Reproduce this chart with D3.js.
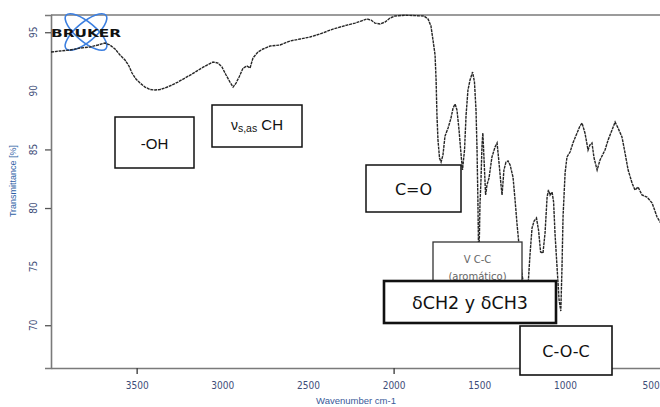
<!DOCTYPE html>
<html>
<head>
<meta charset="utf-8">
<script src="https://cdn.jsdelivr.net/npm/d3@7"></script>
<style>
  html, body { margin: 0; padding: 0; background: #fff; }
  svg { display: block; }
</style>
</head>
<body>
<svg id="chart" width="660" height="407"></svg>
<script>
// FT-IR spectrum: wavenumber (cm-1) and transmittance (%)
const wavenumber = [
  4000, 3947, 3889, 3831, 3772, 3726, 3685, 3656, 3626, 3597, 3568, 3545, 3527, 3504, 3480,
  3451, 3422, 3393, 3364, 3334, 3294, 3259, 3218, 3177, 3130, 3089, 3054, 3025, 3002, 2978,
  2955, 2937, 2920, 2902, 2879, 2856, 2838, 2821, 2792, 2762, 2721, 2663, 2605, 2546, 2488,
  2430, 2354, 2272, 2225, 2190, 2155, 2132, 2109, 2079, 2050, 2021, 1992, 1933, 1875, 1822,
  1799, 1782, 1770, 1758, 1752, 1747, 1741, 1732, 1723, 1712, 1700, 1682, 1665, 1653, 1641,
  1630, 1618, 1606, 1598, 1586, 1577, 1566, 1554, 1539, 1528, 1519, 1513, 1508, 1505, 1503,
  1499, 1496, 1490, 1484, 1479, 1472, 1463, 1455, 1443, 1426, 1408, 1396, 1385, 1373, 1367,
  1356, 1344, 1332, 1320, 1303, 1291, 1279, 1268, 1250, 1233, 1215, 1204, 1192, 1180, 1166,
  1154, 1142, 1128, 1116, 1104, 1096, 1087, 1075, 1066, 1058, 1046, 1034, 1024, 1017, 1011,
  999, 988, 970, 953, 929, 912, 900, 883, 865, 854, 842, 830, 812, 795, 766,
  748, 725, 707, 690, 667, 649, 631, 608, 591, 573, 550, 521, 491, 462, 445, 416
];
const transmittance = [
  93.31, 93.40, 93.48, 93.65, 93.74, 93.91, 94.08, 93.91, 93.57, 93.05, 92.63, 92.12, 91.52, 91.01, 90.66,
  90.32, 90.11, 90.07, 90.11, 90.24, 90.49, 90.75, 91.09, 91.43, 91.86, 92.20, 92.46, 92.37, 92.03, 91.35,
  90.75, 90.32, 90.66, 91.18, 91.94, 92.12, 91.94, 92.80, 93.31, 93.57, 93.82, 93.91, 94.25, 94.42, 94.59,
  94.85, 95.27, 95.61, 95.78, 95.95, 96.13, 96.04, 95.78, 95.70, 95.87, 96.21, 96.38, 96.45, 96.42, 96.38,
  96.13, 95.53, 94.33, 93.05, 90.92, 87.93, 85.80, 84.27, 83.92, 84.52, 86.14, 86.83, 87.68, 88.53, 88.87,
  88.36, 86.65, 84.52, 83.24, 84.95, 87.93, 90.07, 90.92, 91.60, 90.75, 88.36, 84.95, 80.68, 77.27, 75.99,
  77.70, 80.26, 82.39, 85.38, 86.40, 84.10, 81.11, 81.96, 82.56, 84.35, 85.20, 85.55, 83.92, 81.96, 81.11,
  83.24, 83.92, 84.01, 83.67, 82.64, 80.68, 78.55, 76.84, 74.28, 72.83, 73.43, 75.99, 78.29, 78.89, 79.15,
  78.12, 76.25, 76.16, 77.87, 80.94, 81.54, 81.11, 81.37, 80.51, 77.87, 74.97, 72.15, 71.21, 74.97, 79.23,
  82.99, 84.35, 84.78, 85.55, 86.40, 87.00, 87.25, 86.40, 84.95, 85.38, 85.55, 84.27, 83.24, 84.10, 84.95,
  85.80, 86.65, 87.34, 86.83, 86.06, 84.69, 83.24, 82.13, 81.54, 81.79, 81.11, 80.94, 80.43, 79.23, 78.81, 78.46
];

// Axis labels
const xTickLabels = [3500, 3000, 2500, 2000, 1500, 1000, 500];
const xTickMarks = [3500, 2000];
const yTickLabels = [95, 90, 85, 80, 75, 70];
const yTickMarks = [95, 85, 80, 70];

// Band assignments written in the boxes
const bandLabels = ["-OH", "νs,as CH", "C=O", "V C-C (aromático)", "δCH2 y δCH3", "C-O-C"];

const svg = d3.select("#chart");

const x = d3.scaleLinear().domain([4000, 400]).range([51, 667.7]);
const y = d3.scaleLinear().domain([66.35, 96.47]).range([368, 15]);

const axisColor = "#7a7a7a";
const labelColor = "#3e4d78";

// Plot frame: left, top and bottom lines
svg.append("line").attr("x1", 51).attr("x2", 660).attr("y1", 15).attr("y2", 15)
  .attr("stroke", axisColor).attr("stroke-width", 1.6);

// Bottom axis: labels
const gx = svg.append("g").attr("transform", "translate(0,368)")
  .call(d3.axisBottom(x).tickValues(xTickLabels).tickSize(0).tickPadding(14).tickFormat(d3.format("d")));
gx.select(".domain").attr("stroke", axisColor).attr("stroke-width", 1.6);
gx.selectAll("text").attr("font-family", "DejaVu Sans Condensed, DejaVu Sans, sans-serif")
  .attr("font-size", 10).attr("fill", labelColor);

// Bottom axis: the few tick marks
const gxm = svg.append("g").attr("transform", "translate(0,368)")
  .call(d3.axisBottom(x).tickValues(xTickMarks).tickSize(6).tickFormat(""));
gxm.select(".domain").remove();
gxm.selectAll("line").attr("stroke", "#444").attr("stroke-width", 1.4);

// Left axis
const gy = svg.append("g").attr("transform", "translate(51,0)")
  .call(d3.axisLeft(y).tickValues(yTickMarks).tickSize(6).tickFormat(""));
gy.select(".domain").attr("stroke", axisColor).attr("stroke-width", 1.6);
gy.selectAll("line").attr("stroke", "#555").attr("stroke-width", 1.3);

// Rotated left tick labels
svg.append("g").selectAll("text").data(yTickLabels).join("text")
  .attr("transform", d => `translate(33,${y(d)}) rotate(-90)`)
  .attr("text-anchor", "middle").attr("dy", "0.35em")
  .attr("font-family", "DejaVu Sans Condensed, DejaVu Sans, sans-serif")
  .attr("font-size", 10).attr("fill", labelColor)
  .text(d => d);

// Axis titles
svg.append("text")
  .attr("transform", "translate(16,181) rotate(-90)")
  .attr("text-anchor", "middle")
  .attr("font-family", "Liberation Sans, Arial, sans-serif")
  .attr("font-size", 9).attr("fill", "#2f5fa6")
  .text("Transmittance [%]");
svg.append("text")
  .attr("x", 356).attr("y", 404)
  .attr("text-anchor", "middle")
  .attr("font-family", "Liberation Sans, Arial, sans-serif")
  .attr("font-size", 9.5).attr("fill", "#3a5a9a")
  .text("Wavenumber cm-1");

// Instrument logo
const logo = svg.append("g").attr("transform", "translate(86,32)");
[-40, 40].forEach(a => {
  logo.append("ellipse").attr("rx", 26).attr("ry", 9.5)
    .attr("transform", `rotate(${a})`)
    .attr("fill", "none").attr("stroke", "#3c7fe0").attr("stroke-width", 1.6);
});
svg.append("text").attr("x", 51).attr("y", 37)
  .attr("font-family", "DejaVu Sans, sans-serif").attr("font-weight", "bold")
  .attr("font-size", 11).attr("textLength", 70).attr("lengthAdjust", "spacingAndGlyphs")
  .attr("fill", "#111").text("BRUKER");

// Spectrum
const spectrum = wavenumber.map((w, i) => ({ w, t: transmittance[i] }));
svg.append("path")
  .datum(spectrum)
  .attr("fill", "none")
  .attr("stroke", "#262626")
  .attr("stroke-width", 1.4)
  .attr("stroke-dasharray", "3,0.8")
  .attr("d", d3.line().x(d => x(d.w)).y(d => y(d.t)));

// Annotation boxes (pixel layout)
function box(x0, y0, w, h, sw, stroke) {
  svg.append("rect").attr("x", x0).attr("y", y0).attr("width", w).attr("height", h)
    .attr("fill", "#fff").attr("stroke", stroke || "#111").attr("stroke-width", sw);
}
function label(tx, ty, txt, size, family, color) {
  return svg.append("text").attr("x", tx).attr("y", ty).attr("text-anchor", "middle")
    .attr("font-family", family).attr("font-size", size).attr("fill", color || "#111").text(txt);
}
const sansA = "Liberation Sans, Arial, sans-serif";
const sansV = "DejaVu Sans, Verdana, sans-serif";

// -OH
box(115, 117, 79, 51, 1.5);
label(154.5, 149, bandLabels[0], 15, sansA);

// ν s,as CH
box(212, 105, 90, 42, 1.5);
const nu = svg.append("text").attr("x", 257).attr("y", 129.5).attr("text-anchor", "middle")
  .attr("font-family", sansA).attr("fill", "#111");
nu.append("tspan").attr("font-size", 14).text("ν");
nu.append("tspan").attr("font-size", 10.5).attr("dy", 2.5).text("s,as");
nu.append("tspan").attr("font-size", 15).attr("dy", -2.5).text(" CH");

// C=O
box(366, 165, 95, 47, 1.5);
label(413.5, 194.5, bandLabels[2], 16, sansV);

// ν C-C (aromático)
box(433, 242, 89, 70, 1.3, "#333");
label(477.5, 263, "V C-C", 10, sansV, "#666");
label(477.5, 279.5, "(aromático)", 10, sansV, "#666");

// δCH2 y δCH3
box(384, 281, 172, 42, 2.6);
label(470, 308.5, bandLabels[4], 17.5, sansV);

// C-O-C
box(520, 326, 92, 49, 1.6);
label(566, 356.5, bandLabels[5], 16, sansV);
</script>
</body>
</html>
